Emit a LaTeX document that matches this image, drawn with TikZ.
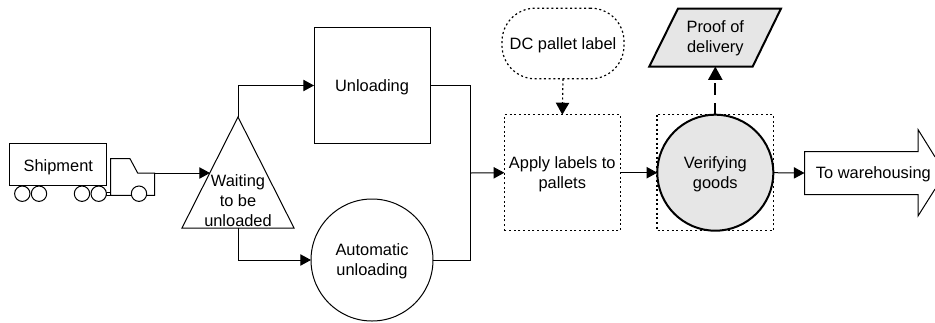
\documentclass[tikz,border=0pt]{standalone}
\usepackage{fontspec}
\setmainfont{Liberation Sans}
\usetikzlibrary{arrows.meta}

\tikzset{every picture/.style={line width=0.75pt}}
\tikzset{
  flowtext/.style={inner sep=0.75pt,outer sep=0pt,align=center,font=\fontsize{12.3}{14.8}\selectfont},
  squarebox/.style={rectangle,draw,inner sep=0pt,outer sep=0pt,minimum width=87pt,minimum height=87pt},
  roundbox/.style={circle,draw,inner sep=0pt,outer sep=0pt,minimum size=91.5pt},
  dottedline/.style={line width=0.9pt,dash pattern=on 1.5pt off 2pt},
  graybox/.style={line width=1.5pt,fill={rgb, 255:red, 230; green, 230; blue, 230 }},
  flow/.style={-{Triangle[length=8pt,width=8.5pt]}},
  dotflow/.style={dottedline,-{Triangle[length=9pt,width=10pt]}},
  dashflow/.style={line width=1.5pt,dash pattern=on 9pt off 6pt,-{Triangle[length=10pt,width=10.5pt]}}
}

\begin{document}
\begin{tikzpicture}[x=0.75pt,y=0.75pt,yscale=-1,xscale=1]
\useasboundingbox (0,0) rectangle (935,322);

%Shape: Truck cab
\draw (110.7,195.3) -- (110.7,158.7) -- (130,158.7) -- (137.7,173) -- (154.7,173) -- (154.7,195.3) -- cycle ;
\draw (106.7,192.7) rectangle (110.7,195.3) ;
%Shape: Wheels
\draw [fill=white] (22.3,193.7) circle (7.7) ;
\draw [fill=white] (39,193.7) circle (7.7) ;
\draw [fill=white] (82,193.7) circle (7.7) ;
\draw [fill=white] (98.7,193.7) circle (7.7) ;
\draw [fill=white] (139,193.7) circle (7.7) ;
%Shape: Trailer
\node (trailer) [squarebox,minimum width=72.75pt,minimum height=31.5pt] at (58.3,164.3) {};
% Text Node
\node (shipment) [flowtext] at (58.3,167) {Shipment};

%Shape: Triangle
\draw (238,117) -- (294,228) -- (182,228) -- cycle ;
\coordinate (waitingtop) at (238,117);
\coordinate (waitingbase) at (238,228);
\coordinate (waitingin) at (210,173);
\coordinate (truckout) at (154.7,173);
% Text Node
\node (waiting) [flowtext] at (238,200.5) {Waiting\\to be\\unloaded};

%Shape: Square
\node (unloading) [squarebox] at (372,85.5) {};
% Text Node
\node (unloadingtext) [flowtext] at (372,87.5) {Unloading};
%Shape: Circle
\node (automatic) [roundbox] at (372,260) {};
% Text Node
\node (automatictext) [flowtext] at (372,261.5) {Automatic\\unloading};

%Shape: Dotted square
\node (pallets) [squarebox,draw=none] at (562.3,172.7) {};
\draw [dottedline] (pallets.south west) rectangle (pallets.north east) ;
% Text Node
\node (palletstext) [flowtext] at (562.3,174.5) {Apply labels to\\pallets};
%Shape: Dotted rounded square
\node (dclabel) [squarebox,dottedline,rounded corners=25pt,minimum width=91.5pt,minimum height=53pt] at (563,43.5) {};
% Text Node
\node (dclabeltext) [flowtext] at (563,45.5) {DC pallet label};

%Shape: Dotted square
\draw [dottedline] (657,114.7) rectangle (773.7,230.7) ;
%Shape: Circle
\node (verifying) [roundbox,graybox,minimum size=87pt] at (715.3,172.7) {};
% Text Node
\node (verifyingtext) [flowtext] at (715.3,174.5) {Verifying\\goods};

%Shape: Parallelogram
\draw [graybox] (678,8.5) -- (781,8.5) -- (752.7,66.5) -- (649.3,66.5) -- cycle ;
\coordinate (proofin) at (715.3,66.5);
% Text Node
\node (proof) [flowtext] at (715.3,38.5) {Proof of\\delivery};

%Shape: Arrow cut by the page edge
\draw (935,156.9) -- (918,129.5) -- (918,151.5) -- (804.5,151.5) -- (804.5,194.5) -- (918,194.5) -- (918,216) -- (935,189.1) ;
\coordinate (warehousein) at (804.5,173);
% Text Node
\node (warehousing) [flowtext] at (873.4,174.5) {To warehousing};

%Straight Lines
\coordinate (merge) at (470.7,173);
\draw [flow] (truckout) -- (waitingin) ;
\draw [flow] (waitingtop) |- (unloading.west) ;
\draw [flow] (waitingbase) |- (automatic.west) ;
\draw (unloading.east) -| (merge) ;
\draw (automatic.east) -| (merge) ;
\draw [flow] (merge) -- (pallets.west) ;
\draw [dotflow] (dclabel.south) -- (pallets.north) ;
\draw [flow] (pallets.east) -- (verifying.west) ;
\draw [flow] (verifying.east) -- (warehousein) ;
\draw [dashflow] (verifying.north) -- (proofin) ;

\end{tikzpicture}
\end{document}
